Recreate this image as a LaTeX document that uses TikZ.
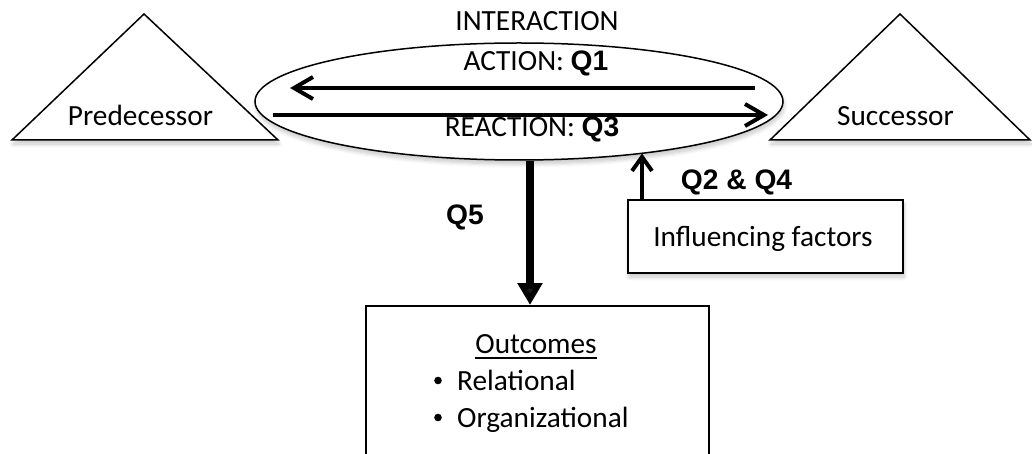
\documentclass[tikz,border=0pt]{standalone}
\usepackage{fontspec}
\setmainfont{Carlito}
\newfontfamily\labelfont{Liberation Sans}
\usetikzlibrary{arrows.meta,calc,shapes.geometric,shadows.blur}

\newcommand\qfont{\labelfont\bfseries\fontsize{28.2}{31}\selectfont}

\begin{document}
\begin{tikzpicture}[x=1pt,y=-1pt,
  soft/.style={blur shadow={shadow xshift=1pt,shadow yshift=-4pt,shadow opacity=22,shadow blur radius=4pt,shadow blur steps=8}},
  body/.style={font=\fontsize{29.3}{33}\selectfont,inner sep=0pt,anchor=base},
  qlabel/.style={font=\qfont,inner sep=0pt,anchor=base},
  party/.style={draw=black,line width=1.5pt,fill=white,line join=miter,soft},
  thinbox/.style={draw=black,line width=2pt,fill=white},
  flow/.style={line width=4pt,-{Straight Barb[length=19pt,width=22pt,line width=4pt]}},
  effect/.style={line width=8pt,-{Triangle[length=22pt,width=24pt]}},
  factor/.style={line width=4pt,-{Straight Barb[length=14pt,width=20pt,line width=4pt]}}
]
\useasboundingbox (0,0) rectangle (1032,454);

% the two parties
\draw[party] (12,140) -- (144,14) -- (278,140) -- cycle;
\draw[party] (770,140) -- (900,14) -- (1030,140) -- cycle;
\node[body] (pred) at (140.5,126) {Predecessor};
\node[body] (succ) at (895.5,126) {Successor};

% the interaction
\node[ellipse,draw=black,line width=1.5pt,fill=white,soft,
      minimum width=528pt,minimum height=117pt,inner sep=0pt] (ell) at (519,101.5) {};
\node[body] (inter) at (537,31) {INTERACTION};
\node[body] (act) at (536,71) {ACTION: {\qfont Q1}};
\node[body] (react) at (532,137) {REACTION: {\qfont Q3}};

\coordinate (actfrom) at ($(ell.center)+(236,-13.5)$);
\coordinate (actto)   at ($(ell.center)+(-229,-13.5)$);
\coordinate (refrom)  at ($(ell.center)+(-246,13.5)$);
\coordinate (reto)    at ($(ell.center)+(249,13.5)$);
\draw[flow] (actfrom) -- (actto);
\draw[flow] (refrom) -- (reto);

% influencing factors
\node[thinbox,soft,minimum width=275pt,minimum height=73pt,anchor=north west] (infl) at (627,199) {};
\node[body] (infltext) at (763,247) {Influencing factors};
\coordinate (q2from) at ($(infl.north west)+(15,0)$);
\coordinate (q2to) at (642,153.5);
\draw[factor] (q2from) -- (q2to);
\node[qlabel] (q24) at (736.5,190) {Q2 \& Q4};

% outcomes
\node[thinbox,minimum width=343pt,minimum height=170pt,anchor=north west] (outc) at (365,305) {};
\node[body] (outtitle) at (536,353) {Outcomes};
\draw[line width=1.2pt] (outtitle.base west) ++(0,5) coordinate (ulstart) -- (ulstart -| outtitle.base east);
\node[body,anchor=base west] (rel) at (457,390) {Relational};
\node[body,anchor=base west] (org) at (457,427) {Organizational};
\fill (438,380.5) circle (3.8pt);
\fill (438,417.5) circle (3.8pt);

\coordinate (q5from) at ($(ell.south)+(11,0)$);
\draw[effect] (q5from) -- (q5from |- outc.north);
\node[qlabel] (q5) at (465,225) {Q5};
\end{tikzpicture}
\end{document}
